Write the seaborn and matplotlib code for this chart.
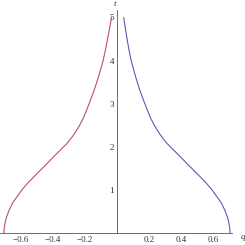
import numpy as np
import seaborn as sns
import matplotlib.pyplot as plt
from matplotlib.ticker import FixedLocator

sns.set_style("white")
plt.rcParams['font.family'] = ['Liberation Serif', 'DejaVu Serif']

# values
t_vals = [0.0, 0.1, 0.22, 0.35, 0.53, 0.7, 0.84, 1.0, 1.15, 1.3, 1.46, 1.6, 1.77, 1.92,
          2.08, 2.27, 2.47, 2.65, 2.85, 3.07, 3.32, 3.63, 4.01, 4.25, 4.48, 4.75, 5.0]
q_right = [0.707, 0.705, 0.70, 0.692, 0.674, 0.652, 0.625, 0.594, 0.56, 0.521, 0.478, 0.44, 0.396, 0.355,
           0.312, 0.272, 0.238, 0.212, 0.19, 0.167, 0.142, 0.116, 0.088, 0.075, 0.064, 0.052, 0.042]
q_left = [-0.707, -0.705, -0.70, -0.692, -0.674, -0.652, -0.625, -0.594, -0.56, -0.521, -0.478, -0.44, -0.396, -0.355,
          -0.312, -0.272, -0.238, -0.212, -0.19, -0.167, -0.142, -0.115, -0.086, -0.072, -0.06, -0.046, -0.034]

x_ticks = [-0.6, -0.4, -0.2, 0.2, 0.4, 0.6]
x_ticklabels = ["\u22120.6", "\u22120.4", "\u22120.2", "0.2", "0.4", "0.6"]
y_ticks = [1, 2, 3, 4, 5]

fig = plt.figure(figsize=(2.45, 2.45), dpi=100)
ax = fig.add_axes([0, 0, 1, 1])

sns.lineplot(x=q_left, y=t_vals, sort=False, estimator=None, color="#b84e80", lw=0.8, ax=ax)
sns.lineplot(x=q_right, y=t_vals, sort=False, estimator=None, color="#5a5ab8", lw=0.8, ax=ax)

ax.set_xlim(-0.731, 0.80)
ax.set_ylim(-0.278, 5.406)

# mathematica-like axes through the origin
for side in ["top", "right"]:
    ax.spines[side].set_visible(False)
ax.spines["left"].set_position(("data", 0))
ax.spines["bottom"].set_position(("data", 0))
ax.spines["left"].set_bounds(0, 5.17)
ax.spines["bottom"].set_bounds(-0.731, 0.72)
for side in ["left", "bottom"]:
    ax.spines[side].set_color("#555555")
    ax.spines[side].set_linewidth(0.6)

ax.xaxis.set_major_locator(FixedLocator(x_ticks))
ax.set_xticklabels(x_ticklabels)
ax.xaxis.set_minor_locator(FixedLocator([v / 20 for v in range(-14, 15) if v % 4 != 0]))
ax.yaxis.set_major_locator(FixedLocator(y_ticks))
ax.yaxis.set_minor_locator(FixedLocator([v / 5 for v in range(1, 26) if v % 5 != 0]))
ax.tick_params(which="both", direction="in", color="#555555", width=0.5,
               labelsize=6.5, labelcolor="#333333", pad=2)
ax.tick_params(which="major", length=3)
ax.tick_params(which="minor", length=1.5)

ax.text(0.785, -0.1, "q", fontsize=6.5, style="italic", ha="center", va="center", color="#333333")
ax.text(-0.012, 5.31, "t", fontsize=6.5, style="italic", ha="center", va="center", color="#333333")

ax.set(xlabel=None, ylabel=None)
fig.savefig("out.png", dpi=100)
